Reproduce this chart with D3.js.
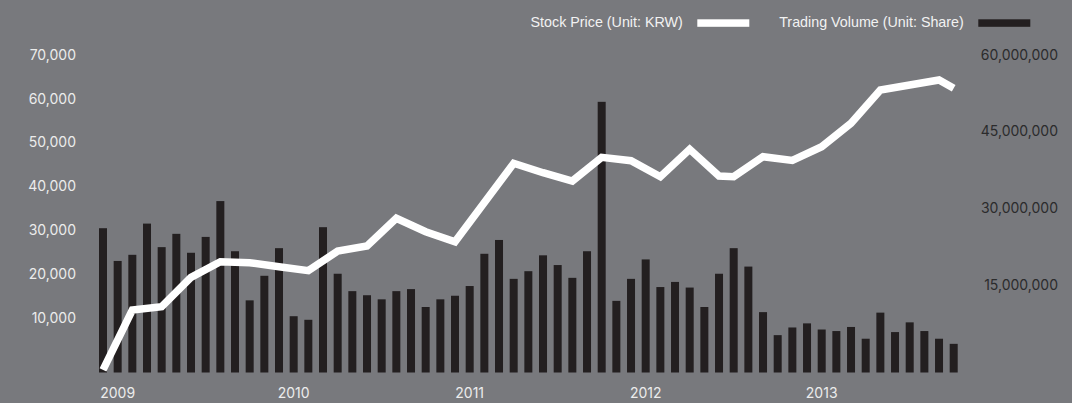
<!DOCTYPE html>
<html>
<head>
<meta charset="utf-8">
<script src="https://cdn.jsdelivr.net/npm/d3@7"></script>
<style>
    html, body { margin: 0; padding: 0; background: #78797d; }
    #chart { width: 1072px; height: 403px; }
</style>
</head>
<body>
<div id="chart"></div>
<script>
// monthly trading volume, Jan 2009 .. Nov 2013 (shares)
var volume = [
    28200000, 21800000, 23000000, 29100000, 24500000, 27100000, 23400000, 26500000, 33500000, 23700000, 14100000, 18900000,
    24300000, 11000000, 10300000, 28400000, 19300000, 15900000, 15100000, 14300000, 15900000, 16300000, 12800000, 14300000,
    15000000, 16900000, 23200000, 25900000, 18300000, 19800000, 22900000, 21000000, 18500000, 23700000, 52900000, 14000000,
    18300000, 22100000, 16700000, 17700000, 16600000, 12800000, 19300000, 24300000, 20700000, 11800000, 7300000, 8800000,
    9600000, 8400000, 8100000, 8900000, 6600000, 11700000, 7900000, 9800000, 8100000, 6600000, 5600000
];

// stock price line: month index (0 = Jan 2009) and price in KRW
var priceMonths = [0, 2, 4, 6, 8, 10, 12, 14, 16, 18, 20, 22, 24, 28, 30, 32, 34, 36, 38, 40, 42, 43, 45, 47, 49, 51, 53, 55, 57, 58];
var priceValues = [600, 14250, 15000, 21700, 25260, 25030, 24120, 23210, 27700, 28840, 35160, 32100, 29820, 47700, 45550, 43660,
    49070, 48290, 44640, 50890, 44800, 44640, 49200, 48340, 51480, 56820, 64410, 65550, 66690, 64800];

var leftTicks = [10000, 20000, 30000, 40000, 50000, 60000, 70000];
var rightTicks = [15000000, 30000000, 45000000, 60000000];
var yearLabels = ["2009", "2010", "2011", "2012", "2013"];
var yearMonths = [1, 13, 25, 37, 49];
var legendItems = ["Stock Price (Unit: KRW)", "Trading Volume (Unit: Share)"];

function renderChart() {

    var width = 1072,
        height = 403;

    var svg = d3.select("#chart")
        .append("svg")
        .attr("width", width)
        .attr("height", height);

    svg.append("rect")
        .attr("width", width)
        .attr("height", height)
        .attr("fill", "#78797d");

    var months = d3.range(volume.length);

    // bars: 8px wide, step ~14.7px
    var x = d3.scaleBand()
        .domain(months)
        .range([99, 957.7])
        .paddingInner(0.4545)
        .paddingOuter(0);

    var yLeft = d3.scaleLinear()
        .domain([0, 70000])
        .range([372.5, 65.5]);

    var yRight = d3.scaleLinear()
        .domain([0, 60000000])
        .range([372.5, 65.5]);

    // left axis (labels sit a bit above their value, no lines)
    var leftAxis = svg.append("g")
        .attr("transform", "translate(76,0)")
        .call(d3.axisLeft(yLeft).tickValues(leftTicks).tickSize(0).tickPadding(0).tickFormat(d3.format(",")));
    leftAxis.select(".domain").remove();
    leftAxis.selectAll("text")
        .attr("dy", "-0.45em")
        .attr("fill", "#ececec")
        .style("font-family", "Inter, 'Noto Sans', sans-serif")
        .style("font-size", "14px");

    // right axis
    var rightAxis = svg.append("g")
        .attr("transform", "translate(1058,0)")
        .call(d3.axisLeft(yRight).tickValues(rightTicks).tickSize(0).tickPadding(0).tickFormat(d3.format(",")));
    rightAxis.select(".domain").remove();
    rightAxis.selectAll("text")
        .attr("dy", "-0.45em")
        .attr("fill", "#2b2b2c")
        .style("font-family", "Inter, 'Noto Sans', sans-serif")
        .style("font-size", "14px");

    // volume bars
    svg.append("g")
        .selectAll("rect")
        .data(volume)
        .join("rect")
        .attr("x", function (d, i) { return x(i); })
        .attr("y", function (d) { return yRight(d); })
        .attr("width", x.bandwidth())
        .attr("height", function (d) { return yRight(0) - yRight(d); })
        .attr("fill", "#231f20");

    // stock price line
    var lineData = priceMonths.map(function (m, i) { return { m: m, v: priceValues[i] }; });
    var lineGenerator = d3.line()
        .x(function (d) { return x(d.m) + x.bandwidth() / 2; })
        .y(function (d) { return yLeft(d.v); });

    svg.append("path")
        .attr("fill", "none")
        .attr("stroke", "#ffffff")
        .attr("stroke-width", 7.5)
        .attr("stroke-linejoin", "miter")
        .attr("d", lineGenerator(lineData));

    // year labels
    svg.append("g")
        .selectAll("text")
        .data(yearLabels)
        .join("text")
        .attr("x", function (d, i) { return x(yearMonths[i]) + x.bandwidth() / 2; })
        .attr("y", 398)
        .attr("text-anchor", "middle")
        .attr("fill", "#ececec")
        .style("font-family", "Inter, 'Noto Sans', sans-serif")
        .style("font-size", "14px")
        .text(function (d) { return d; });

    // legend
    var legendRectX = [697.3, 978.3];
    var legendColors = ["#ffffff", "#231f20"];
    var legend = svg.append("g")
        .selectAll("g")
        .data(legendItems)
        .join("g");
    legend.append("rect")
        .attr("x", function (d, i) { return legendRectX[i]; })
        .attr("y", 19.3)
        .attr("width", 52)
        .attr("height", 7.5)
        .attr("fill", function (d, i) { return legendColors[i]; });
    legend.append("text")
        .attr("x", function (d, i) { return legendRectX[i] - 14.5; })
        .attr("y", 27.3)
        .attr("text-anchor", "end")
        .attr("fill", "#f2f2f2")
        .style("font-family", "'Liberation Sans', Arial, sans-serif")
        .style("font-size", "14.3px")
        .text(function (d) { return d; });
}

document.addEventListener("DOMContentLoaded", function () {
    renderChart();
});
</script>
</body>
</html>
